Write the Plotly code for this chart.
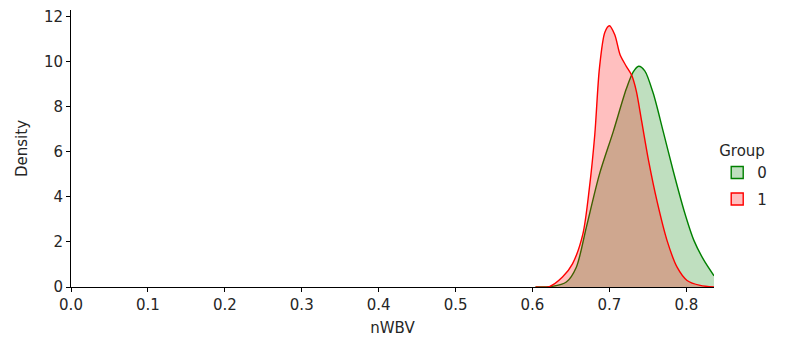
import plotly.graph_objects as go

# Group 0 (green) KDE points
x_g0 = [0.604, 0.626, 0.644, 0.657, 0.670, 0.687, 0.705, 0.722, 0.731, 0.738, 0.746,
        0.757, 0.770, 0.783, 0.797, 0.810, 0.823, 0.836]
d_g0 = [0.0, 0.03, 0.22, 0.88, 2.65, 5.0, 6.9, 8.8, 9.55, 9.8, 9.6,
        8.6, 6.9, 5.15, 3.4, 2.06, 1.18, 0.5]

# Group 1 (red)
x_g1 = [0.604, 0.622, 0.639, 0.652, 0.6655, 0.674, 0.681, 0.687, 0.694, 0.700, 0.707,
        0.714, 0.722, 0.729, 0.735, 0.742, 0.751, 0.762, 0.775, 0.788, 0.801, 0.818, 0.836]
d_g1 = [0.0, 0.02, 0.44, 1.03, 2.35, 4.4, 6.76, 9.7, 11.3, 11.6, 11.2,
        10.3, 9.8, 9.4, 8.7, 7.35, 5.6, 3.8, 2.06, 0.88, 0.29, 0.07, 0.0]

groups = ["0", "1"]
line_colors = ["green", "red"]
fill_colors = ["rgba(0,128,0,0.25)", "rgba(255,0,0,0.25)"]

x_ticks = [0.0, 0.1, 0.2, 0.3, 0.4, 0.5, 0.6, 0.7, 0.8]
x_ticklabels = ["0.0", "0.1", "0.2", "0.3", "0.4", "0.5", "0.6", "0.7", "0.8"]
y_ticks = [0, 2, 4, 6, 8, 10, 12]

FONT = "DejaVu Sans"
FS = 15
TXT = "#262626"

fig = go.Figure()
for xs, ds, g, lc, fc in zip([x_g0, x_g1], [d_g0, d_g1], groups, line_colors, fill_colors):
    fig.add_trace(go.Scatter(x=xs, y=ds, name=g, mode="lines", fill="tozeroy",
                             line=dict(color=lc, width=1.4, shape="spline", smoothing=0.8),
                             fillcolor=fc, showlegend=False, legendgroup=g))
# legend swatches (rectangles, like the reference)
for g, lc, fc in zip(groups, line_colors, fill_colors):
    fig.add_trace(go.Bar(x=[None], y=[None], name=g, legendgroup=g,
                         marker=dict(color=fc, line=dict(color=lc, width=1.4))))

axis_common = dict(showline=True, linecolor="black", linewidth=1, ticks="outside",
                   ticklen=4, tickwidth=1, tickcolor="black", showgrid=False, zeroline=False,
                   tickfont=dict(family=FONT, size=FS, color=TXT),
                   mirror=False, automargin=False)

fig.update_layout(
    width=777, height=333,
    margin=dict(l=63, r=71, t=2, b=54),
    plot_bgcolor="white", paper_bgcolor="white",
    font=dict(family=FONT, size=FS, color=TXT),
    xaxis=dict(range=[0, 0.836], tickvals=x_ticks, ticktext=x_ticklabels,
               title=dict(text="nWBV", font=dict(family=FONT, size=FS, color=TXT), standoff=9),
               **axis_common),
    yaxis=dict(range=[0, 12.3], tickvals=y_ticks,
               title=dict(text="Density", font=dict(family=FONT, size=FS, color=TXT), standoff=12),
               **axis_common),
    legend=dict(title=dict(text="Group", font=dict(family=FONT, size=FS, color=TXT)),
                x=1.005, xanchor="left", y=0.40, yanchor="middle",
                font=dict(family=FONT, size=FS, color=TXT), bgcolor="rgba(0,0,0,0)",
                tracegroupgap=4),
    showlegend=True,
)

fig.write_html("out.html")
